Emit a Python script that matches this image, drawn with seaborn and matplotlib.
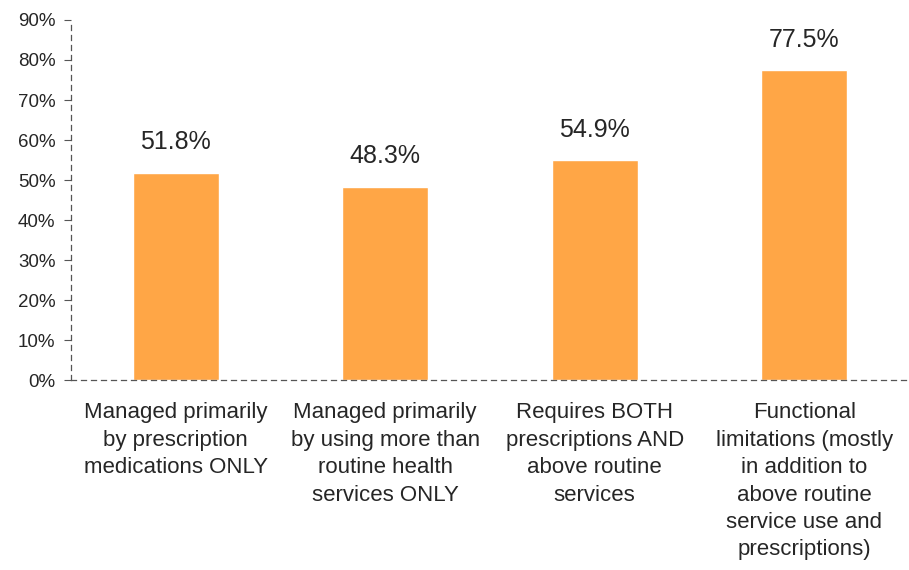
import matplotlib
matplotlib.use("Agg")
import matplotlib.pyplot as plt
import seaborn as sns
import pandas as pd
from matplotlib.ticker import FixedLocator

categories = [
    "Managed primarily\nby prescription\nmedications ONLY",
    "Managed primarily\nby using more than\nroutine health\nservices ONLY",
    "Requires BOTH\nprescriptions AND\nabove routine\nservices",
    "Functional\nlimitations (mostly\nin addition to\nabove routine\nservice use and\nprescriptions)",
]
values = [51.8, 48.3, 54.9, 77.5]
yticks = [0, 10, 20, 30, 40, 50, 60, 70, 80, 90]

sns.set_theme(style="white")
plt.rcParams['font.family'] = ['Liberation Sans', 'DejaVu Sans']

df = pd.DataFrame({"cat": categories, "val": values})
fig = plt.figure(figsize=(9.09, 5.70), dpi=100)
ax = fig.add_axes([0.078, 0.333, 0.922, 0.632])
sns.barplot(data=df, x="cat", y="val", color="#FFA646", width=0.41, ax=ax, saturation=1)

axis_col = "#555555"
text_col = "#262626"
ax.set_ylim(0, 90)
ax.set_xlim(-0.5, 3.5)
ax.set_yticks(yticks)
ax.set_yticklabels([f"{t}%" for t in yticks], fontsize=13.5, color=text_col)
ax.set_xticks(range(len(categories)))
ax.set_xticklabels(categories, fontsize=16, color=text_col, va="top", linespacing=1.4)
ax.xaxis.set_minor_locator(FixedLocator([0.5, 1.5, 2.5]))
ax.tick_params(axis="x", which="major", length=0, pad=16)
ax.tick_params(axis="x", which="minor", length=5, color=axis_col, direction="out", width=0.8)
ax.tick_params(axis="y", length=5, color=axis_col, direction="out", width=0.8, pad=6, left=True)
ax.set_xlabel("")
ax.set_ylabel("")
for side in ["top", "right"]:
    ax.spines[side].set_visible(False)
for side in ["left", "bottom"]:
    ax.spines[side].set_visible(True)
    ax.spines[side].set_color(axis_col)
    ax.spines[side].set_linestyle((0, (4, 4)))
    ax.spines[side].set_linewidth(0.9)

for i, v in enumerate(values):
    ax.text(i, v + 7.6, f"{v:.1f}%", ha="center", va="center", fontsize=18, color=text_col)

fig.savefig("out.png", dpi=100)
